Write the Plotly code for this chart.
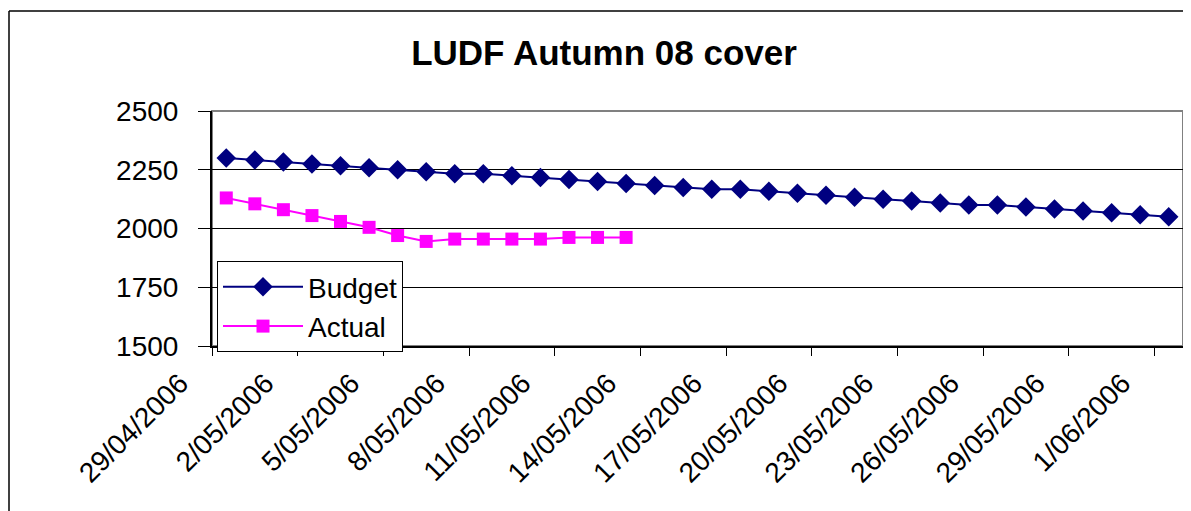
import pandas as pd
import plotly.graph_objects as go

# ---- data ----
budget_dates = pd.date_range("2006-04-29", "2006-06-01", freq="D")
budget_values = [2300, 2292, 2283, 2275, 2267, 2258, 2250, 2242, 2233, 2233,
                 2225, 2217, 2208, 2200, 2192, 2183, 2175, 2167, 2167, 2158,
                 2150, 2142, 2133, 2125, 2117, 2108, 2100, 2100, 2092, 2083,
                 2075, 2067, 2058, 2050]
actual_dates = pd.date_range("2006-04-29", "2006-05-13", freq="D")
actual_values = [2130, 2105, 2080, 2055, 2030, 2005, 1970, 1945, 1955, 1955,
                 1955, 1955, 1962, 1962, 1962]
y_ticks = [1500, 1750, 2000, 2250, 2500]
title_text = "LUDF Autumn 08 cover"

FONT = "Arial, 'Liberation Sans', sans-serif"
half_day = pd.Timedelta(hours=12)  # Excel places points between tick marks

fig = go.Figure()
fig.add_trace(go.Scatter(
    x=budget_dates + half_day, y=budget_values, name="Budget",
    mode="lines+markers",
    line=dict(color="#000080", width=2),
    marker=dict(symbol="diamond", size=15, color="#000080"),
))
fig.add_trace(go.Scatter(
    x=actual_dates + half_day, y=actual_values, name="Actual",
    mode="lines+markers",
    line=dict(color="#FF00FF", width=2),
    marker=dict(symbol="square", size=13, color="#FF00FF"),
))

# page body has an 8px margin: work in screen pixels and subtract it
OFF = 8
W, H = 1191, 511
plot_left, plot_right, plot_top, plot_bottom = 212, 1183, 111, 346
L = plot_left - OFF
R = W - (plot_right - OFF)
T = plot_top - OFF
B = H - (plot_bottom - OFF)
pw, ph = W - L - R, H - T - B

def px_x(x):
    return (x - OFF - L) / pw

def px_y(y):
    return (H - B - (y - OFF)) / ph

shapes = [
    # plot area border
    dict(type="rect", xref="paper", yref="paper", x0=0, y0=0, x1=1, y1=1,
         line=dict(color="#808080", width=2), layer="below"),
    # chart area border (left and top edges)
    dict(type="line", xref="paper", yref="paper", x0=px_x(9), x1=px_x(W + 30),
         y0=px_y(11), y1=px_y(11), line=dict(color="#000000", width=1.5)),
    dict(type="line", xref="paper", yref="paper", x0=px_x(9), x1=px_x(9),
         y0=px_y(11), y1=px_y(H + 30), line=dict(color="#000000", width=1.5)),
]

fig.update_layout(
    width=W, height=H,
    margin=dict(l=L, r=R, t=T, b=B, pad=0),
    paper_bgcolor="white", plot_bgcolor="white",
    font=dict(family=FONT, color="black"),
    title=dict(text="<b>" + title_text + "</b>", x=(604 - OFF) / W,
               xref="container", xanchor="center", y=1 - (53 - OFF) / H,
               yref="container", yanchor="middle",
               font=dict(size=35, family=FONT, color="black")),
    showlegend=True,
    legend=dict(x=px_x(217), y=px_y(261), xanchor="left", yanchor="top",
                bgcolor="white", bordercolor="black", borderwidth=1,
                font=dict(size=28, family=FONT, color="black"),
                itemwidth=80, tracegroupgap=0),
    shapes=shapes,
)

fig.update_xaxes(
    type="date", range=["2006-04-29", "2006-06-02"],
    tick0="2006-04-29", dtick=3 * 86400000, tickformat="%-d/%m/%Y",
    tickangle=-45, tickfont=dict(size=28, family=FONT, color="black"),
    ticks="outside", ticklen=8, tickcolor="black", tickwidth=1,
    ticklabelshift=-32,
    showline=True, linecolor="black", linewidth=1.5,
    showgrid=False, zeroline=False, fixedrange=True,
)
fig.update_yaxes(
    range=[1500, 2500], tickvals=y_ticks, tickformat="d",
    tickfont=dict(size=28, family=FONT, color="black"),
    ticks="outside", ticklen=12, tickcolor="black", tickwidth=1,
    showline=True, linecolor="black", linewidth=2,
    showgrid=True, gridcolor="#000000", gridwidth=1,
    zeroline=False, fixedrange=True, ticklabelstandoff=14,
)

fig.write_html("out.html")
